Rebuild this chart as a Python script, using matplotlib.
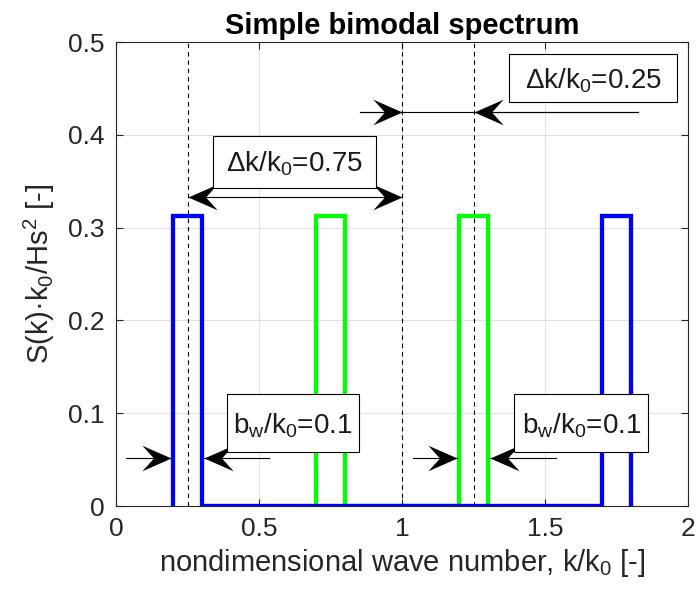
import matplotlib
matplotlib.use("Agg")
import matplotlib.pyplot as plt
from matplotlib.path import Path
from matplotlib.patches import Rectangle

plt.rcParams["font.family"] = ["Liberation Sans", "DejaVu Sans"]
plt.rcParams["mathtext.fontset"] = "custom"
plt.rcParams["mathtext.rm"] = "Liberation Sans"
plt.rcParams["mathtext.it"] = "Liberation Sans"

# spectrum outlines (k/k0, S*k0/Hs^2)
k_blue = [0.2, 0.2, 0.3, 0.3, 1.7, 1.7, 1.8, 1.8]
s_blue = [0.0, 0.3125, 0.3125, 0.0, 0.0, 0.3125, 0.3125, 0.0]
k_green = [0.7, 0.7, 0.8, 0.8, 1.2, 1.2, 1.3, 1.3]
s_green = [0.0, 0.3125, 0.3125, 0.0, 0.0, 0.3125, 0.3125, 0.0]

# reference wave numbers marked with dashed lines
k_marks = [0.25, 1.0, 1.25]

xticks = [0, 0.5, 1, 1.5, 2]
xticklabels = ["0", "0.5", "1", "1.5", "2"]
yticks = [0, 0.1, 0.2, 0.3, 0.4, 0.5]
yticklabels = ["0", "0.1", "0.2", "0.3", "0.4", "0.5"]

gray = "0.15"

fig = plt.figure(figsize=(6.96, 5.96), dpi=100)
ax = fig.add_axes([0.1667, 0.151, 0.8218, 0.7785])

ax.plot(k_green, s_green, color="#00ff00", lw=3.1, solid_joinstyle="miter", zorder=3)
ax.plot(k_blue, s_blue, color="#0000ff", lw=3.1, solid_joinstyle="miter", zorder=4)
for km in k_marks:
    ax.axvline(km, color="k", lw=0.8, ls=(0, (4, 3.5)), zorder=2)

ax.set_xlim(0, 2)
ax.set_ylim(0, 0.5)
ax.set_xticks(xticks)
ax.set_xticklabels(xticklabels)
ax.set_yticks(yticks)
ax.set_yticklabels(yticklabels)
ax.grid(True, color="0.88", lw=0.8, zorder=0)
ax.set_axisbelow(True)
ax.tick_params(direction="in", top=True, right=True, length=5, width=0.8,
               colors=gray, labelsize=19, pad=8)
for sp in ax.spines.values():
    sp.set_color(gray)
    sp.set_linewidth(0.8)

ax.set_xlabel("nondimensional wave number, k/k$_0$ [-]", fontsize=21, color=gray,
              labelpad=4)
ax.set_ylabel("S(k)·k$_0$/Hs$^2$ [-]", fontsize=21, color=gray, labelpad=8)
ax.set_title("Simple bimodal spectrum", fontsize=21, fontweight="bold", pad=6)

# swept-back arrow heads, tip at the origin
head_r = Path([(0, 0), (-1.0, 0.44), (-0.6, 0), (-1.0, -0.44), (0, 0)],
              [Path.MOVETO, Path.LINETO, Path.LINETO, Path.LINETO, Path.CLOSEPOLY])
head_l = Path([(0, 0), (1.0, 0.44), (0.6, 0), (1.0, -0.44), (0, 0)],
              [Path.MOVETO, Path.LINETO, Path.LINETO, Path.LINETO, Path.CLOSEPOLY])


def arrow(x0, x1, y):
    ax.plot([x0, x1], [y, y], color="k", lw=0.8, zorder=6)
    head = head_r if x1 > x0 else head_l
    ax.plot([x1], [y], marker=head, markersize=42, color="k", mec="k", mew=0,
            zorder=6)


def label(x0, x1, y0, y1, s):
    ax.add_patch(Rectangle((x0, y0), x1 - x0, y1 - y0, fc="white", ec="k",
                           lw=0.8, zorder=7))
    yb = (y0 + y1) / 2 - 0.0108
    ax.text((x0 + x1) / 2, yb, s, ha="center", va="baseline", fontsize=20,
            color="0.1", zorder=8)


# spacing between the inner peaks
ax.plot([0.853, 1.825], [0.4246, 0.4246], color="k", lw=0.8, zorder=6)
arrow(0.853, 1.0, 0.4246)
arrow(1.825, 1.25, 0.4246)
label(1.375, 1.961, 0.435, 0.487, "Δk/k$_0$=0.25")

# spacing between the outer and inner peaks
arrow(0.625, 0.25, 0.333)
arrow(0.625, 1.0, 0.333)
label(0.340, 0.909, 0.343, 0.399, "Δk/k$_0$=0.75")

# peak widths
arrow(0.035, 0.193, 0.0517)
arrow(0.535, 0.307, 0.0517)
label(0.389, 0.849, 0.0582, 0.1207, "b$_w$/k$_0$=0.1")

arrow(1.04, 1.193, 0.0517)
arrow(1.54, 1.307, 0.0517)
label(1.393, 1.860, 0.0582, 0.1207, "b$_w$/k$_0$=0.1")

fig.savefig("out.png", dpi=100)
